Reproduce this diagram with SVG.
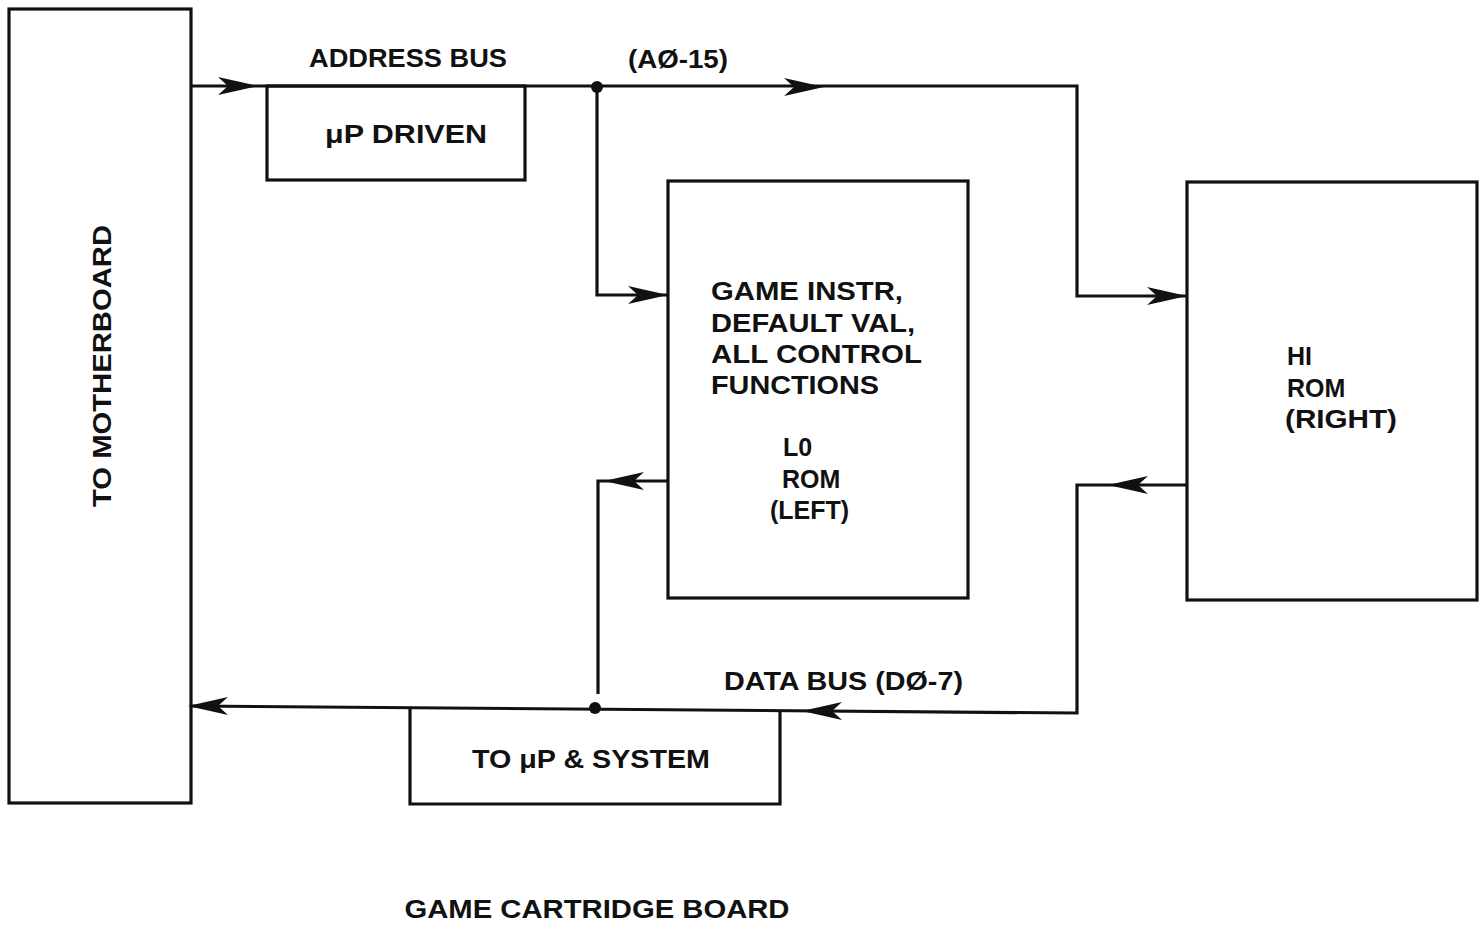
<svg xmlns="http://www.w3.org/2000/svg" xmlns:xlink="http://www.w3.org/1999/xlink" width="1479" height="927" viewBox="0 0 1479 927">
<style>
.box{fill:none;stroke:#111;stroke-width:3.2}
.ln{fill:none;stroke:#111;stroke-width:3.2}
.t{font-family:"Liberation Sans",Arial,sans-serif;font-weight:bold;font-size:25px;fill:#111}
</style>
<defs>
<path id="ah" d="M0,0 L-40,-9 L-30,0 L-40,9 Z" fill="#111"/>
</defs>
<rect width="1479" height="927" fill="#fff"/>
<g id="motherboard">
<rect class="box" x="9" y="9" width="182" height="794"/>
<text class="t" transform="translate(111,366) rotate(-90)" text-anchor="middle" textLength="282" lengthAdjust="spacingAndGlyphs">TO MOTHERBOARD</text>
</g>
<g id="up-driven">
<rect class="box" x="267" y="86" width="258" height="94"/>
<text class="t" x="406" y="143" text-anchor="middle" textLength="162" lengthAdjust="spacingAndGlyphs">μP DRIVEN</text>
</g>
<g id="lo-rom">
<rect class="box" x="668" y="181" width="300" height="417"/>
<text class="t" x="711" y="300" textLength="192" lengthAdjust="spacingAndGlyphs">GAME INSTR,</text>
<text class="t" x="711" y="332" textLength="204" lengthAdjust="spacingAndGlyphs">DEFAULT VAL,</text>
<text class="t" x="711" y="363" textLength="211" lengthAdjust="spacingAndGlyphs">ALL CONTROL</text>
<text class="t" x="711" y="394" textLength="168" lengthAdjust="spacingAndGlyphs">FUNCTIONS</text>
<text class="t" x="783" y="456">L0</text>
<text class="t" x="782" y="488">ROM</text>
<text class="t" x="770" y="519">(LEFT)</text>
</g>
<g id="hi-rom">
<rect class="box" x="1187" y="182" width="290" height="418"/>
<text class="t" x="1287" y="365">HI</text>
<text class="t" x="1287" y="397">ROM</text>
<text class="t" x="1285" y="428" textLength="112" lengthAdjust="spacingAndGlyphs">(RIGHT)</text>
</g>
<g id="to-up-system">
<path class="box" d="M410,708 V804 H780 V711"/>
<text class="t" x="591" y="768" text-anchor="middle" textLength="238" lengthAdjust="spacingAndGlyphs">TO μP &amp; SYSTEM</text>
</g>
<g id="connectors">
<path class="ln" d="M192,86 H1077 V296 H1187"/>
<path class="ln" d="M597,86 V295 H668"/>
<path class="ln" d="M1187,485 H1077 V713 L192,706"/>
<path class="ln" d="M668,481 H598 V694"/>
<circle cx="597" cy="87" r="6" fill="#111"/>
<circle cx="595" cy="708" r="6" fill="#111"/>
<use xlink:href="#ah" transform="translate(258,86)"/>
<use xlink:href="#ah" transform="translate(824,87)"/>
<use xlink:href="#ah" transform="translate(668,295)"/>
<use xlink:href="#ah" transform="translate(1187,296)"/>
<use xlink:href="#ah" transform="translate(1108,485) rotate(180)"/>
<use xlink:href="#ah" transform="translate(604,481) rotate(180)"/>
<use xlink:href="#ah" transform="translate(802,711) rotate(180)"/>
<use xlink:href="#ah" transform="translate(188,706) rotate(180)"/>
</g>
<g id="labels">
<text class="t" x="408" y="67" text-anchor="middle" textLength="198" lengthAdjust="spacingAndGlyphs">ADDRESS BUS</text>
<text class="t" x="628" y="68" textLength="100" lengthAdjust="spacingAndGlyphs">(AØ-15)</text>
<text class="t" x="724" y="690" textLength="239" lengthAdjust="spacingAndGlyphs">DATA BUS (DØ-7)</text>
<text class="t" x="597" y="918" text-anchor="middle" textLength="385" lengthAdjust="spacingAndGlyphs">GAME CARTRIDGE BOARD</text>
</g>
</svg>
